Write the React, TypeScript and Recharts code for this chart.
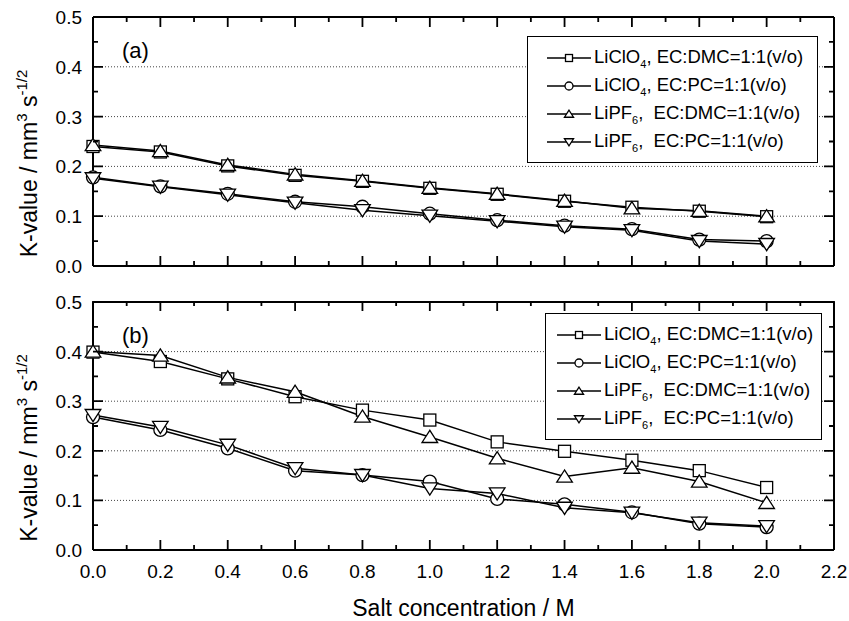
import React from "react";
import { LineChart, Line, XAxis, YAxis, CartesianGrid } from "recharts";

const FONT = "'Liberation Sans', Arial, sans-serif";

const concentration = [0, 0.2, 0.4, 0.6, 0.8, 1.0, 1.2, 1.4, 1.6, 1.8, 2.0];

// panel (a)
const aClO4DMC = [0.240, 0.229, 0.201, 0.182, 0.170, 0.156, 0.144, 0.130, 0.118, 0.110, 0.099];
const aClO4PC = [0.178, 0.160, 0.145, 0.129, 0.119, 0.105, 0.092, 0.081, 0.074, 0.053, 0.050];
const aPF6DMC = [0.243, 0.231, 0.203, 0.184, 0.171, 0.157, 0.145, 0.131, 0.116, 0.111, 0.100];
const aPF6PC = [0.176, 0.159, 0.143, 0.127, 0.112, 0.101, 0.090, 0.079, 0.072, 0.050, 0.044];

// panel (b)
const bClO4DMC = [0.399, 0.380, 0.345, 0.309, 0.282, 0.262, 0.218, 0.199, 0.181, 0.160, 0.126];
const bClO4PC = [0.268, 0.242, 0.205, 0.160, 0.151, 0.138, 0.103, 0.092, 0.076, 0.053, 0.046];
const bPF6DMC = [0.400, 0.392, 0.348, 0.319, 0.269, 0.228, 0.185, 0.148, 0.166, 0.138, 0.095];
const bPF6PC = [0.272, 0.248, 0.212, 0.165, 0.151, 0.124, 0.114, 0.085, 0.075, 0.055, 0.048];

const xTicks = [0, 0.1, 0.2, 0.3, 0.4, 0.5, 0.6, 0.7, 0.8, 0.9, 1.0, 1.1, 1.2, 1.3, 1.4, 1.5, 1.6, 1.7, 1.8, 1.9, 2.0, 2.1, 2.2];
const yTicks = [0, 0.05, 0.1, 0.15, 0.2, 0.25, 0.3, 0.35, 0.4, 0.45, 0.5];
const gridValues = [0.1, 0.2, 0.3, 0.4];

const seriesKeys = ["clo4dmc", "clo4pc", "pf6dmc", "pf6pc"];
const saltNames = ["LiClO", "LiClO", "LiPF", "LiPF"];
const saltSubs = ["4", "4", "6", "6"];
const solvents = [" EC:DMC=1:1(v/o)", " EC:PC=1:1(v/o)", "  EC:DMC=1:1(v/o)", "  EC:PC=1:1(v/o)"];
const markerKinds = ["square", "circle", "up", "down"];

// plot box size, same in both panels
const PW = 741;
const PH = 249;

function buildRows(cols: number[][]) {
  return concentration.map((c, i) => {
    const row: Record<string, number> = { c };
    seriesKeys.forEach((k, j) => (row[k] = cols[j][i]));
    return row;
  });
}

const dataA = buildRows([aClO4DMC, aClO4PC, aPF6DMC, aPF6PC]);
const dataB = buildRows([bClO4DMC, bClO4PC, bPF6DMC, bPF6PC]);

const isMajorX = (v: number) => Math.round(v * 10) % 2 === 0;
const isMajorY = (v: number) => Math.round(v * 100) % 10 === 0;

function Marker({ kind, cx, cy, s }: any) {
  if (kind === "square")
    return <rect x={cx - s / 2} y={cy - s / 2} width={s} height={s} fill="#fff" stroke="#000" strokeWidth={1.3} />;
  if (kind === "circle") return <circle cx={cx} cy={cy} r={s / 2 + 0.5} fill="#fff" stroke="#000" strokeWidth={1.3} />;
  const w = s * 0.65;
  const h = s * 0.55;
  const pts =
    kind === "up"
      ? `${cx},${cy - h} ${cx - w},${cy + h * 0.85} ${cx + w},${cy + h * 0.85}`
      : `${cx},${cy + h} ${cx - w},${cy - h * 0.85} ${cx + w},${cy - h * 0.85}`;
  return <polygon points={pts} fill="#fff" stroke="#000" strokeWidth={1.3} />;
}

// bottom tick, mirrored on the top edge
function XTick(props: any) {
  const { x, y, payload, labels } = props;
  const len = isMajorX(payload.value) ? 10 : 5;
  const top = y - PH;
  return (
    <g>
      <path d={`M${x},${y}V${y - len}M${x},${top}V${top + len}`} stroke="#000" strokeWidth={1.8} fill="none" />
      {labels && len === 10 && (
        <text x={x} y={y + 28} textAnchor="middle" fontSize={19} fontFamily={FONT}>
          {payload.value.toFixed(1)}
        </text>
      )}
    </g>
  );
}

// left tick, mirrored on the right edge
function YTick(props: any) {
  const { x, y, payload } = props;
  const len = isMajorY(payload.value) ? 10 : 5;
  const right = x + PW;
  return (
    <g>
      <path d={`M${x},${y}H${x + len}M${right},${y}H${right - len}`} stroke="#000" strokeWidth={1.8} fill="none" />
      {len === 10 && (
        <text x={x - 11} y={y + 7} textAnchor="end" fontSize={19} fontFamily={FONT}>
          {payload.value.toFixed(1)}
        </text>
      )}
    </g>
  );
}

function YTitle(props: any) {
  const vb = props.viewBox;
  const cx = 37;
  const cy = vb.y + vb.height / 2 + 22;
  return (
    <text x={cx} y={cy} transform={`rotate(-90, ${cx}, ${cy})`} textAnchor="middle" fontSize={23} fontFamily={FONT}>
      K-value / mm<tspan dy={-10} fontSize={15}>3</tspan>
      <tspan dy={10}> s</tspan>
      <tspan dy={-10} fontSize={15}>-1/2</tspan>
    </text>
  );
}

function XTitle(props: any) {
  const vb = props.viewBox;
  return (
    <text x={vb.x + vb.width / 2} y={vb.y + 66} textAnchor="middle" fontSize={23} fontFamily={FONT}>
      Salt concentration / M
    </text>
  );
}

function LegendBox({ left, top, padLeft, padRight }: any) {
  return (
    <div
      style={{
        position: "absolute",
        left,
        top,
        border: "1.5px solid #000",
        background: "#fff",
        padding: `7px ${padRight}px 6px ${padLeft}px`,
        fontFamily: FONT,
        fontSize: 18.5,
        color: "#000",
      }}
    >
      {seriesKeys.map((k, i) => (
        <div key={k} style={{ display: "flex", alignItems: "center", height: 28, whiteSpace: "pre" }}>
          <svg width={44} height={14} style={{ marginRight: 3 }}>
            <line x1={0} x2={44} y1={7} y2={7} stroke="#000" strokeWidth={1.5} />
            <Marker kind={markerKinds[i]} cx={22} cy={7} s={7} />
          </svg>
          <span>
            {saltNames[i]}
            <sub style={{ fontSize: 11 }}>{saltSubs[i]}</sub>,{solvents[i]}
          </span>
        </div>
      ))}
    </div>
  );
}

function Panel({ data, tag, height, bottom, axisH, labels }: any) {
  return (
    <LineChart width={849} height={height} data={data} margin={{ top: 17, right: 15, bottom: bottom, left: 33 }}>
      <CartesianGrid vertical={false} horizontalValues={gridValues} stroke="#444" strokeDasharray="1 2" />
      <CartesianGrid horizontalValues={[0.5]} verticalValues={[2.2]} stroke="#000" strokeWidth={2} />
      <XAxis
        dataKey="c"
        type="number"
        domain={[0, 2.2]}
        ticks={xTicks}
        interval={0}
        height={axisH}
        tickSize={0}
        tickMargin={0}
        tickLine={false}
        axisLine={{ stroke: "#000", strokeWidth: 2 }}
        tick={(p: any) => <XTick {...p} labels={labels} />}
        label={labels ? (p: any) => <XTitle {...p} /> : undefined}
      />
      <YAxis
        type="number"
        domain={[0, 0.5]}
        ticks={yTicks}
        interval={0}
        width={60}
        tickSize={0}
        tickMargin={0}
        tickLine={false}
        axisLine={{ stroke: "#000", strokeWidth: 2 }}
        tick={(p: any) => <YTick {...p} />}
        label={(p: any) => <YTitle {...p} />}
      />
      {seriesKeys.map((k, i) => (
        <Line
          key={k}
          dataKey={k}
          stroke="#000"
          strokeWidth={1.5}
          isAnimationActive={false}
          dot={(p: any) => <Marker key={`${k}-${p.index}`} kind={markerKinds[i]} cx={p.cx} cy={p.cy} s={12} />}
        />
      ))}
      <text x={122} y={58} fontSize={22} fontFamily={FONT}>
        {tag}
      </text>
    </LineChart>
  );
}

export default function App() {
  return (
    <div style={{ position: "absolute", left: 0, top: 0, width: 849, height: 621, background: "#fff" }}>
      <Panel data={dataA} tag="(a)" height={285} bottom={9} axisH={10} labels={false} />
      <Panel data={dataB} tag="(b)" height={336} bottom={31} axisH={40} labels={true} />
      <LegendBox left={527} top={36} padLeft={19} padRight={14} />
      <LegendBox left={545} top={313} padLeft={11} padRight={8} />
    </div>
  );
}
